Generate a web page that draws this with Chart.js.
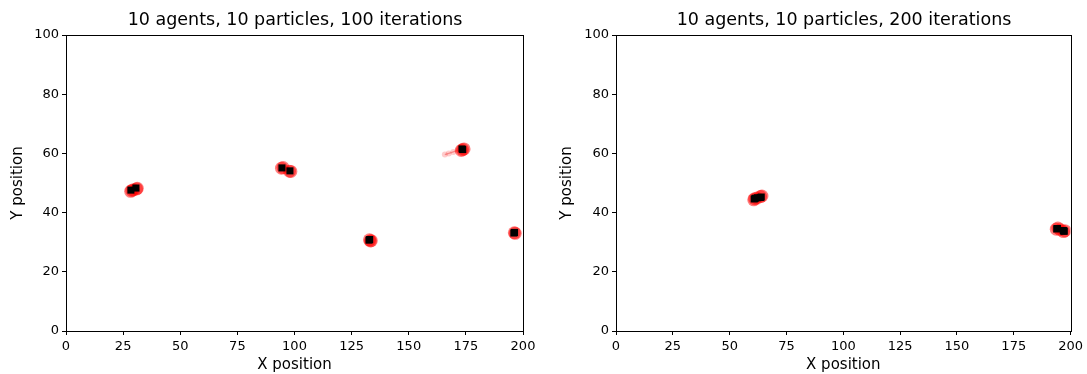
<!DOCTYPE html>
<html>
<head>
<meta charset="utf-8">
<script src="https://cdn.jsdelivr.net/npm/chart.js@4"></script>
<style>
  body { margin: 0; background: #fff; }
  #wrap { position: relative; width: 1087px; height: 374px; }
  canvas { position: absolute; top: 0; }
</style>
</head>
<body>
<div id="wrap">
  <canvas id="left" width="543" height="374" style="left:0"></canvas>
  <canvas id="right" width="544" height="374" style="left:543px"></canvas>
</div>
<script>
// agents (black squares)
var leftAgentX = [28.4, 30.6, 94.5, 98.0, 173.3, 173.6, 132.6, 132.9, 196.0, 196.3];
var leftAgentY = [47.6, 48.3, 55.1, 54.1, 61.5, 61.3, 30.7, 30.9, 33.1, 33.3];
// particles (red circles)
var leftPartX = [28.3, 28.8, 29.5, 30.9, 31.2, 94.3, 95.0, 97.8, 98.4, 173.6, 174.2, 173.0, 133.2, 133.6, 132.8, 196.2, 196.6];
var leftPartY = [47.2, 47.5, 47.7, 48.0, 48.2, 55.0, 55.2, 54.0, 53.9, 61.3, 61.5, 61.0, 30.4, 30.5, 30.8, 33.2, 33.0];
// faint trail near the top right cluster
var leftTrailX = [165.8, 167.5, 169.5, 171.5];
var leftTrailY = [59.6, 60.0, 60.5, 61.0];

var rightAgentX = [60.8, 61.2, 63.9, 63.5, 62.2, 193.9, 194.2, 197.0, 196.8, 197.2];
var rightAgentY = [44.6, 44.8, 45.3, 45.1, 45.0, 34.5, 34.6, 33.8, 33.9, 33.7];
var rightPartX = [60.6, 61.0, 62.0, 63.6, 64.2, 193.7, 194.4, 196.9, 197.5, 195.5];
var rightPartY = [44.3, 44.7, 44.9, 45.4, 45.6, 34.4, 34.8, 33.6, 33.9, 34.2];

var xTicks = [0, 25, 50, 75, 100, 125, 150, 175, 200];
var yTicks = [0, 20, 40, 60, 80, 100];

function pts(xs, ys) {
    var out = [];
    for (var i = 0; i < xs.length; i++) out.push({x: xs[i], y: ys[i]});
    return out;
}

// matplotlib style box round the axes, and the title centred over the plot area
var frame = {
    id: 'frame',
    afterDraw: function(chart, args, opts) {
        var x = chart.scales.x, y = chart.scales.y, c = chart.ctx;
        var l = Math.round(x.getPixelForValue(0)) + 0.5, r = Math.round(x.getPixelForValue(200)) + 0.5;
        var t = Math.round(y.getPixelForValue(100)) + 0.5, b = Math.round(y.getPixelForValue(0)) + 0.5;
        c.save();
        c.strokeStyle = '#000';
        c.lineWidth = 1;
        c.strokeRect(l, t, r - l, b - t);
        c.fillStyle = '#000';
        c.font = '17.5px "DejaVu Sans"';
        c.textAlign = 'center';
        c.textBaseline = 'middle';
        c.fillText(opts.text, (l + r) / 2, 20);
        c.restore();
    }
};

function makeChart(id, title, agentX, agentY, partX, partY, trailX, trailY, yWidth, padRight, yTitlePad) {
    var datasets = [];
    datasets.push({
        data: pts(agentX, agentY), pointStyle: 'rect', pointRadius: 5, pointBorderWidth: 0,
        pointBackgroundColor: '#000'
    });
    datasets.push({
        data: pts(partX, partY), pointRadius: 6.5, pointBorderWidth: 0,
        pointBackgroundColor: 'rgba(255,0,0,0.5)'
    });
    if (trailX) {
        datasets.push({
            type: 'line', data: pts(trailX, trailY), showLine: true,
            borderColor: 'rgba(230,90,90,0.6)', borderWidth: 1.2,
            pointRadius: 3, pointBackgroundColor: 'rgba(255,90,90,0.3)', pointBorderWidth: 0
        });
    }
    return new Chart(document.getElementById(id), {
        type: 'scatter',
        data: {datasets: datasets},
        plugins: [frame],
        options: {
            responsive: false, animation: false,
            layout: {padding: {top: 35, right: padRight, bottom: 0}},
            plugins: {
                legend: {display: false}, tooltip: {enabled: false},
                title: {display: false},
                frame: {text: title}
            },
            scales: {
                x: {
                    type: 'linear', min: 0, max: 200,
                    afterBuildTicks: function(s) { s.ticks = xTicks.map(function(v) { return {value: v}; }); },
                    afterFit: function(s) { s.height = 43; },
                    grid: {drawOnChartArea: false, color: '#000', tickLength: 4},
                    border: {color: '#000'},
                    ticks: {color: '#000', padding: 4, maxRotation: 0, font: {family: 'DejaVu Sans', size: 13}},
                    title: {display: true, text: 'X position', color: '#000', padding: {top: 0, bottom: 0},
                        font: {family: 'DejaVu Sans', size: 15}}
                },
                y: {
                    type: 'linear', min: 0, max: 100,
                    afterBuildTicks: function(s) { s.ticks = yTicks.map(function(v) { return {value: v}; }); },
                    afterFit: function(s) { s.width = yWidth; },
                    grid: {drawOnChartArea: false, color: '#000', tickLength: 4},
                    border: {color: '#000'},
                    ticks: {color: '#000', padding: 3, font: {family: 'DejaVu Sans', size: 13}},
                    title: {display: true, text: 'Y position', color: '#000', padding: {top: yTitlePad, bottom: 0},
                        font: {family: 'DejaVu Sans', size: 15}}
                }
            }
        }
    });
}

makeChart('left', '10 agents, 10 particles, 100 iterations',
    leftAgentX, leftAgentY, leftPartX, leftPartY, leftTrailX, leftTrailY, 66, 20, 9);
makeChart('right', '10 agents, 10 particles, 200 iterations',
    rightAgentX, rightAgentY, rightPartX, rightPartY, null, null, 73, 14, 15);
</script>
</body>
</html>
